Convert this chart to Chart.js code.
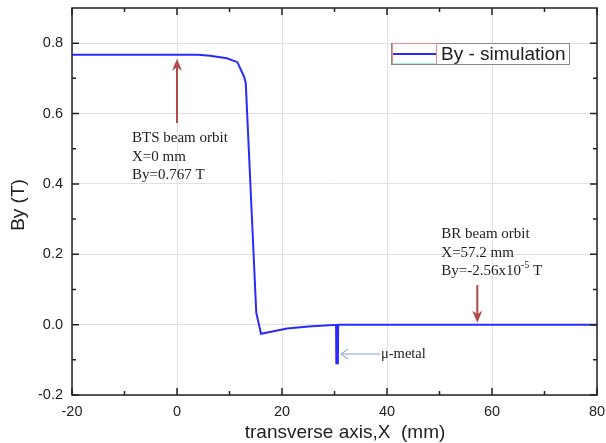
<!DOCTYPE html>
<html>
<head>
<meta charset="utf-8">
<script src="https://cdn.jsdelivr.net/npm/chart.js@4.4.1/dist/chart.umd.min.js"></script>
<style>
  html, body { margin: 0; padding: 0; background: #fff; }
  #wrap { width: 606px; height: 443px; position: relative; }
</style>
</head>
<body>
<div id="wrap"><canvas id="c" width="606" height="443"></canvas></div>
<script>
// ---- data ----
const xValues = [-20, 0, 4, 6.3, 9.5, 11.5, 12.8, 13.1, 15.1, 16.0, 21, 25, 29.8, 30.3, 30.35, 30.65, 30.7, 40, 60, 80];
const byValues = [0.767, 0.767, 0.767, 0.764, 0.757, 0.746, 0.704, 0.686, 0.034, -0.026, -0.011, -0.005, -0.001, -0.001, -0.11, -0.11, 0.0, 0.0, 0.0, 0.0];
const xTicks = [-20, 0, 20, 40, 60, 80];
const yTicks = [-0.2, 0.0, 0.2, 0.4, 0.6, 0.8];
const xMinorTicks = [-10, 10, 30, 50, 70];
const yMinorTicks = [-0.1, 0.1, 0.3, 0.5, 0.7];
const seriesLabel = 'By - simulation';
const xTitle = 'transverse axis,X  (mm)';
const yTitle = 'By (T)';
const annotations = [
  { lines: ['BTS beam orbit', 'X=0 mm', 'By=0.767 T'], x: 0, y: 0.767 },
  { lines: ['BR beam orbit', 'X=57.2 mm', 'By=-2.56x10', '-5', ' T'], x: 57.2, y: 0.0 }
];

const SERIF = '"Liberation Serif", "Times New Roman", serif';
const SANS = '"Liberation Sans", Arial, sans-serif';

const decor = {
  id: 'decor',
  afterDraw(chart) {
    const ctx = chart.ctx;
    const a = chart.chartArea;
    const xs = chart.scales.x, ys = chart.scales.y;
    ctx.save();
    // frame
    ctx.strokeStyle = '#222';
    ctx.lineWidth = 1.5;
    ctx.strokeRect(a.left, a.top, a.right - a.left, a.bottom - a.top);
    // inward ticks
    ctx.beginPath();
    const tick = (vals, len) => {
      vals.forEach(v => {
        const px = xs.getPixelForValue(v);
        ctx.moveTo(px, a.bottom); ctx.lineTo(px, a.bottom - len);
        ctx.moveTo(px, a.top); ctx.lineTo(px, a.top + len);
      });
    };
    const tickY = (vals, len) => {
      vals.forEach(v => {
        const py = ys.getPixelForValue(v);
        ctx.moveTo(a.left, py); ctx.lineTo(a.left + len, py);
        ctx.moveTo(a.right, py); ctx.lineTo(a.right - len, py);
      });
    };
    tick(xTicks, 7); tick(xMinorTicks, 4);
    tickY(yTicks, 7); tickY(yMinorTicks, 4);
    ctx.stroke();

    // axis titles
    ctx.fillStyle = '#222';
    ctx.font = '19px ' + SANS;
    ctx.textAlign = 'center';
    ctx.textBaseline = 'middle';
    ctx.fillText(xTitle, 345, 433);
    ctx.save();
    ctx.translate(19, 205);
    ctx.rotate(-Math.PI / 2);
    ctx.fillText(yTitle, 0, 0);
    ctx.restore();

    // annotations
    ctx.font = '15px ' + SERIF;
    ctx.fillStyle = '#222';
    ctx.textBaseline = 'alphabetic';
    ctx.textAlign = 'left';
    // BTS
    const bx = xs.getPixelForValue(annotations[0].x);
    const by = ys.getPixelForValue(annotations[0].y);
    annotations[0].lines.forEach((t, i) => ctx.fillText(t, bx - 45, 142 + i * 18.5));
    // BR
    const rx = xs.getPixelForValue(annotations[1].x);
    const ry = ys.getPixelForValue(annotations[1].y);
    const L = annotations[1].lines;
    const lx = rx - 36;
    ctx.fillText(L[0], lx, 238);
    ctx.fillText(L[1], lx, 257);
    let tx = lx;
    ctx.fillText(L[2], tx, 275); tx += ctx.measureText(L[2]).width;
    ctx.font = '10px ' + SERIF;
    ctx.fillText(L[3], tx, 268); tx += ctx.measureText(L[3]).width;
    ctx.font = '15px ' + SERIF;
    ctx.fillText(L[4], tx, 275);

    // arrows (dark red)
    const arrow = (x0, y0, x1, y1, col, w, hl, hw) => {
      ctx.strokeStyle = col; ctx.fillStyle = col; ctx.lineWidth = w;
      const ang = Math.atan2(y1 - y0, x1 - x0);
      ctx.beginPath();
      ctx.moveTo(x0, y0);
      ctx.lineTo(x1 - Math.cos(ang) * hl * 0.7, y1 - Math.sin(ang) * hl * 0.7);
      ctx.stroke();
      ctx.beginPath();
      ctx.moveTo(x1, y1);
      ctx.lineTo(x1 - Math.cos(ang) * hl + Math.sin(ang) * hw, y1 - Math.sin(ang) * hl - Math.cos(ang) * hw);
      ctx.lineTo(x1 - Math.cos(ang) * hl * 0.7, y1 - Math.sin(ang) * hl * 0.7);
      ctx.lineTo(x1 - Math.cos(ang) * hl - Math.sin(ang) * hw, y1 - Math.sin(ang) * hl + Math.cos(ang) * hw);
      ctx.closePath();
      ctx.fill();
    };
    arrow(bx, 123, bx, by + 4, '#b34a4a', 2, 12, 5);
    arrow(rx, 285, rx, ry - 2, '#b34a4a', 2, 12, 5);

    // mu-metal arrow
    ctx.strokeStyle = '#7f9fd0'; ctx.lineWidth = 1;
    ctx.beginPath();
    ctx.moveTo(380, 354); ctx.lineTo(341, 354);
    ctx.moveTo(348, 349); ctx.lineTo(341, 354); ctx.lineTo(348, 359);
    ctx.stroke();
    ctx.fillStyle = '#222';
    ctx.font = '14.5px ' + SERIF;
    ctx.textBaseline = 'middle';
    ctx.fillText('μ-metal', 381, 354);

    // legend
    ctx.fillStyle = '#fff';
    ctx.fillRect(391, 43, 179, 21);
    ctx.strokeStyle = '#888'; ctx.lineWidth = 1;
    ctx.strokeRect(391.5, 43.5, 178, 21);
    ctx.strokeStyle = '#f08a8a';
    ctx.strokeRect(392.5, 43.5, 44, 20);
    ctx.strokeStyle = '#a0f0f0';
    ctx.beginPath(); ctx.moveTo(393, 63.5); ctx.lineTo(436, 63.5); ctx.stroke();
    ctx.strokeStyle = '#2a2aff'; ctx.lineWidth = 2;
    ctx.beginPath(); ctx.moveTo(393, 54); ctx.lineTo(436, 54); ctx.stroke();
    ctx.fillStyle = '#222';
    ctx.font = '19px ' + SANS;
    ctx.textBaseline = 'middle';
    ctx.fillText(seriesLabel, 441, 55);
    ctx.restore();
  }
};

const points = xValues.map((x, i) => ({ x: x, y: byValues[i] }));

new Chart(document.getElementById('c'), {
  type: 'line',
  data: {
    datasets: [{
      label: seriesLabel,
      data: points,
      borderColor: '#2a2aff',
      borderWidth: 2,
      pointRadius: 0,
      tension: 0,
      fill: false
    }]
  },
  options: {
    responsive: false,
    animation: false,
    devicePixelRatio: 1,
    layout: { padding: { top: 8, right: 9, left: 0, bottom: 0 } },
    plugins: { legend: { display: false }, tooltip: { enabled: false } },
    scales: {
      x: {
        type: 'linear',
        min: -20, max: 80,
        afterBuildTicks: s => { s.ticks = xTicks.map(v => ({ value: v })); },
        afterFit: s => { s.height = 48; s.paddingLeft = 0; s.paddingRight = 0; },
        grid: { color: '#e2e2e2', drawTicks: false, lineWidth: 1 },
        border: { display: false },
        ticks: {
          padding: 8,
          color: '#222',
          font: { family: SANS, size: 14.5 },
          callback: v => String(v),
          maxRotation: 0
        },
        title: { display: false }
      },
      y: {
        type: 'linear',
        min: -0.2, max: 0.9,
        afterBuildTicks: s => { s.ticks = yTicks.map(v => ({ value: v })); },
        afterFit: s => { s.width = 72; s.paddingTop = 0; s.paddingBottom = 0; },
        grid: { color: '#e2e2e2', drawTicks: false, lineWidth: 1 },
        border: { display: false },
        ticks: {
          padding: 9,
          color: '#222',
          font: { family: SANS, size: 14.5 },
          callback: v => Number(v).toFixed(1)
        },
        title: { display: false }
      }
    }
  },
  plugins: [decor]
});
</script>
</body>
</html>
